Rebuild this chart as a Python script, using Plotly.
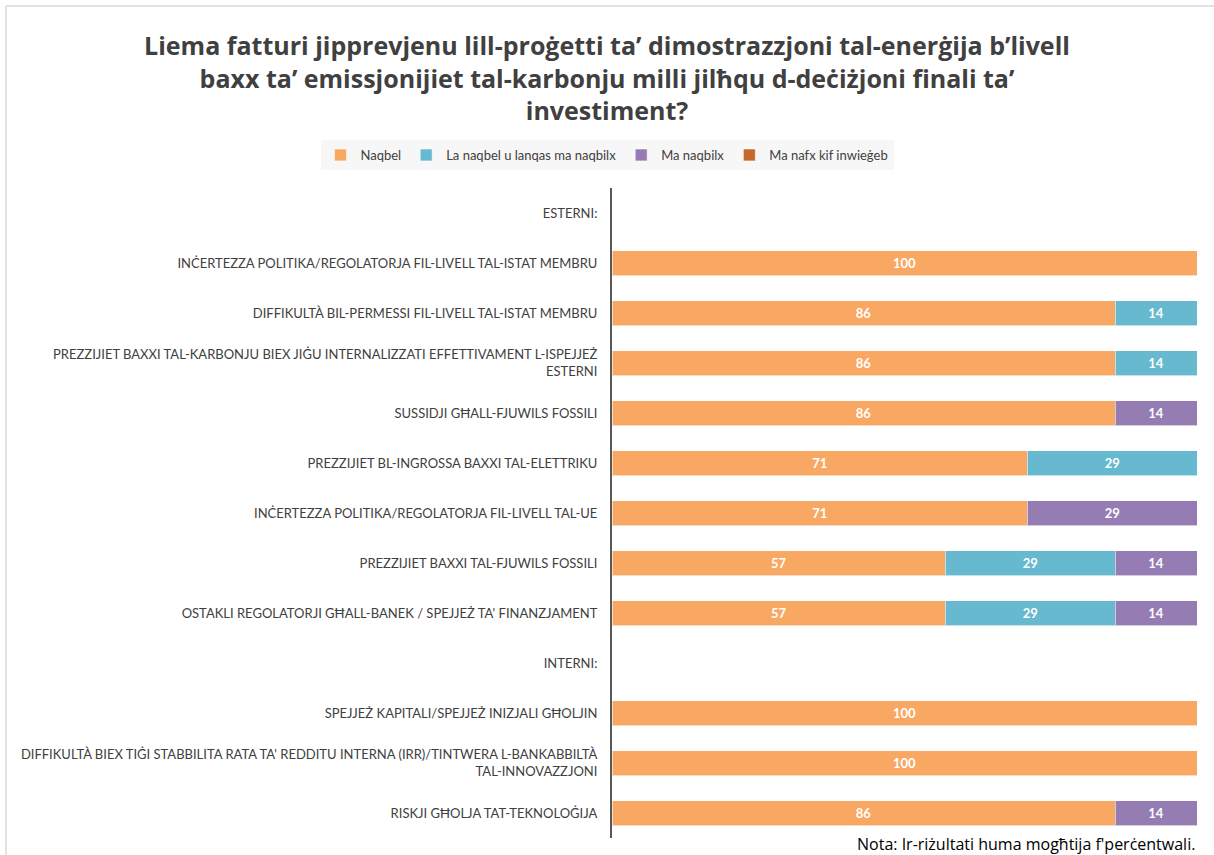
import plotly.graph_objects as go

categories = [
    "ESTERNI:",
    "INĊERTEZZA POLITIKA/REGOLATORJA FIL-LIVELL TAL-ISTAT MEMBRU",
    "DIFFIKULTÀ BIL-PERMESSI FIL-LIVELL TAL-ISTAT MEMBRU",
    "PREZZIJIET BAXXI TAL-KARBONJU BIEX JIĠU INTERNALIZZATI EFFETTIVAMENT L-ISPEJJEŻ<br>ESTERNI",
    "SUSSIDJI GĦALL-FJUWILS FOSSILI",
    "PREZZIJIET BL-INGROSSA BAXXI TAL-ELETTRIKU",
    "INĊERTEZZA POLITIKA/REGOLATORJA FIL-LIVELL TAL-UE",
    "PREZZIJIET BAXXI TAL-FJUWILS FOSSILI",
    "OSTAKLI REGOLATORJI GĦALL-BANEK / SPEJJEŻ TA' FINANZJAMENT",
    "INTERNI:",
    "SPEJJEŻ KAPITALI/SPEJJEŻ INIZJALI GĦOLJIN",
    "DIFFIKULTÀ BIEX TIĠI STABBILITA RATA TA' REDDITU INTERNA (IRR)/TINTWERA L-BANKABBILTÀ<br>TAL-INNOVAZZJONI",
    "RISKJI GĦOLJA TAT-TEKNOLOĠIJA",
]

series_names = ["Naqbel", "La naqbel u lanqas ma naqbilx", "Ma naqbilx", "Ma nafx kif inwieġeb"]
naqbel = [None, 100, 86, 86, 86, 71, 71, 57, 57, None, 100, 100, 86]
la_naqbel = [None, None, 14, 14, None, 29, None, 29, 29, None, None, None, None]
ma_naqbilx = [None, None, None, None, 14, None, 29, 14, 14, None, None, None, 14]
ma_nafx = [None] * 13

colors = ["#F8A862", "#66B9CF", "#957DB4", "#C4692B"]

W, H = 1214, 855
ML, MR, MT, MB = 612, 17, 188, 17
PW = W - ML - MR
PH = H - MT - MB

def px2x(px):
    return (px - ML) / PW

def py2y(py):
    return (H - MB - py) / PH

fig = go.Figure()
for name, vals, col in zip(series_names, [naqbel, la_naqbel, ma_naqbilx, ma_nafx], colors):
    fig.add_trace(go.Bar(
        name=name, y=categories, x=vals, orientation="h",
        marker=dict(color=col, line=dict(color="rgba(255,255,255,0.6)", width=1)),
        text=[("" if v is None else str(v)) for v in vals],
        textposition="inside", insidetextanchor="middle",
        textfont=dict(color="white", size=13, family="Lato", weight="bold"),
        width=0.5,
        showlegend=True,
    ))

fig.update_layout(
    barmode="stack",
    width=W, height=H,
    margin=dict(l=ML, r=MR, t=MT, b=MB),
    paper_bgcolor="white", plot_bgcolor="white",
    font=dict(family="Lato", color="#404040"),
    title=dict(
        text="Liema fatturi jipprevjenu lill-proġetti ta’ dimostrazzjoni tal-enerġija b’livell<br>baxx ta’ emissjonijiet tal-karbonju milli jilħqu d-deċiżjoni finali ta’<br>investiment?",
        x=0.5, xref="container", xanchor="center",
        y=1 - 55 / H, yref="container", yanchor="top",
        font=dict(size=25, family="Open Sans", color="#404040", weight="bold"),
    ),
    legend=dict(
        orientation="h", x=0.5, xref="container", xanchor="center",
        y=1 - 140 / H, yref="container", yanchor="top",
        bgcolor="#F7F7F7", font=dict(size=13, color="#404040"),
        traceorder="normal",
    ),
    xaxis=dict(range=[0, 100], showticklabels=False, showgrid=False, zeroline=False, fixedrange=True),
    yaxis=dict(
        autorange="reversed", showline=True, linecolor="#595959", linewidth=2,
        ticks="", tickfont=dict(size=13, color="#404040"), ticklabelstandoff=10,
        showgrid=False,
    ),
    bargap=0.5,
    annotations=[dict(
        text="Nota: Ir-riżultati huma mogħtija f'perċentwali.",
        xref="paper", yref="paper", x=1, y=py2y(844), xanchor="right", yanchor="middle",
        showarrow=False, font=dict(size=16, color="black", family="Open Sans"),
    )],
    shapes=[
        dict(type="line", xref="paper", yref="paper", x0=px2x(6), x1=px2x(1214), y0=py2y(6), y1=py2y(6),
             line=dict(color="#D9D9D9", width=1.5)),
        dict(type="line", xref="paper", yref="paper", x0=px2x(6), x1=px2x(6), y0=py2y(6), y1=py2y(855),
             line=dict(color="#D9D9D9", width=1.5)),
    ],
)

fig.write_html("out.html", config={"displayModeBar": False},
               post_script="document.body.style.margin='0';document.body.style.overflow='hidden';")
